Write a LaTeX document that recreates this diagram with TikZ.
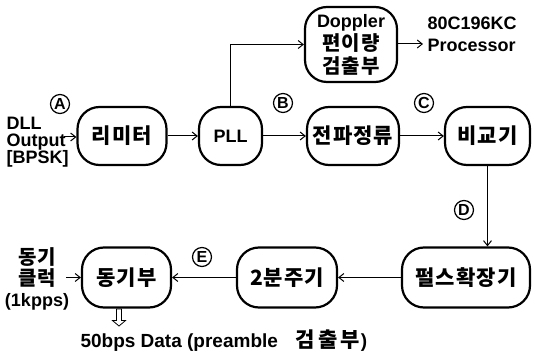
\documentclass[tikz,border=0pt]{standalone}
\usepackage{fontspec}
\setmainfont{Liberation Sans}
\newfontfamily\kr[LetterSpace=5]{Noto Sans CJK KR}
\newfontfamily\krwide[LetterSpace=14]{Noto Sans CJK KR}
\usetikzlibrary{arrows.meta,shapes.arrows}

\tikzset{
  blk/.style={draw, line width=2.2pt, rounded corners=22pt, inner sep=0pt, align=center},
  kor/.style={font=\kr\bfseries\fontsize{21}{24}\selectfont},
  lat/.style={font=\bfseries\fontsize{18}{17}\selectfont},
  tag/.style={draw, circle, line width=1.2pt, inner sep=0pt, minimum size=19pt,
              font=\bfseries\fontsize{16}{16}\selectfont},
  flow/.style={line width=1pt, -{Straight Barb[length=5pt,width=8pt]}},
}

\begin{document}
\begin{tikzpicture}[x=1pt,y=-1pt]
\useasboundingbox (0,0) rectangle (533,355);

% upper row
\node[blk, kor, minimum width=89pt, minimum height=58pt] (lim) at (122,136) {리미터};
\node[blk, lat, minimum width=63pt, minimum height=58pt] (pll) at (230.5,136) {PLL};
\node[blk, kor, minimum width=92pt, minimum height=58pt] (rect) at (353,136) {전파정류};
\node[blk, kor, minimum width=85pt, minimum height=58pt] (cmp) at (487.5,136) {비교기};
\node[blk, minimum width=92pt, minimum height=75pt, font=\fontsize{18}{23}\selectfont] (dop) at (351,44.5)
  {{\bfseries\fontsize{18}{23}\selectfont Doppler}\\
   {\kr\bfseries\fontsize{20}{23}\selectfont 편이량}\\
   {\kr\bfseries\fontsize{20}{23}\selectfont 검출부}};

% lower row
\node[blk, kor, minimum width=89pt, minimum height=60pt] (sync) at (126.5,277.5) {동기부};
\node[blk, kor, minimum width=100pt, minimum height=60pt] (div) at (287,277.5) {2분주기};
\node[blk, kor, minimum width=128pt, minimum height=60pt] (pulse) at (466,277.5) {펄스확장기};

% side texts
\node[lat, align=left, anchor=west, font=\bfseries\fontsize{18}{17}\selectfont] (dll) at (3,142) {DLL\\Output\\{}[BPSK]};
\node[lat, align=left, anchor=west, font=\bfseries\fontsize{18}{22}\selectfont] (proc) at (424,34) {80C196KC\\Processor};
\node[align=center, font=\fontsize{18}{21}\selectfont] (clk) at (37,279)
  {{\kr\bfseries\fontsize{20}{21}\selectfont 동기}\\
   {\kr\bfseries\fontsize{20}{21}\selectfont 클럭}\\
   {\bfseries\fontsize{18}{21}\selectfont (1kpps)}};
\node[anchor=west, font=\bfseries\fontsize{19}{20}\selectfont] (out) at (77,341)
  {50bps Data (preamble\hspace{18pt}{\krwide\bfseries\fontsize{21}{20}\selectfont 검출부}\hspace{1pt})};

% signal tags
\node[tag] (ta) at (60,104) {A};
\node[tag] (tb) at (283,103) {B};
\node[tag] (tc) at (424,103) {C};
\node[tag] (td) at (464,210) {D};
\node[tag] (te) at (202,257) {E};

% free ends
\coordinate (inA) at (64,137);
\coordinate (inClk) at (66,277.5);
\coordinate (toProc) at (423,44);
\coordinate (dnx) at (119,0);

% connectors
\draw[flow] (inA) -- (lim.west |- inA);
\draw[flow] (lim) -- (pll);
\draw[flow] (pll) -- (rect);
\draw[flow] (rect) -- (cmp);
\draw[flow] (pll.north) |- (dop.west);
\draw[flow] (dop.east |- toProc) -- (toProc);
\draw[flow] (cmp.south) -- (cmp.south |- pulse.north);
\draw[flow] (pulse) -- (div);
\draw[flow] (div) -- (sync);
\draw[flow] (inClk) -- (sync);

% hollow output arrow
\node[single arrow, draw, line width=0.8pt, shape border rotate=270, anchor=tail,
      minimum height=17pt, minimum width=13pt, single arrow head extend=2.5pt,
      single arrow tip angle=100, inner sep=1.2pt] (dn) at (sync.south -| dnx) {};
\end{tikzpicture}
\end{document}
